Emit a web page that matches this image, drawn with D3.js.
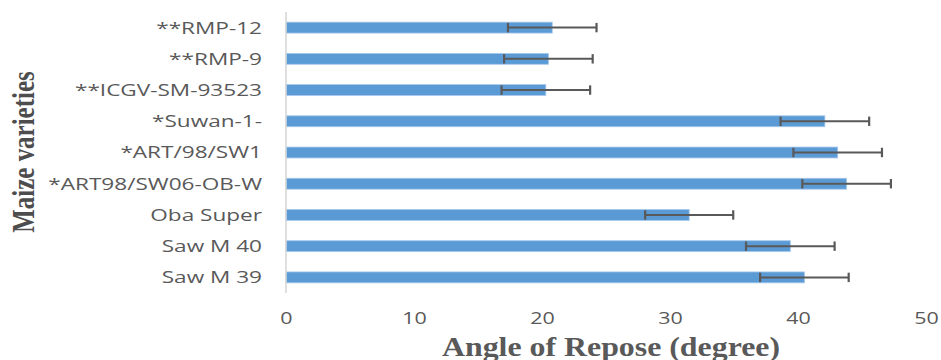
<!DOCTYPE html>
<html>
<head>
<meta charset="utf-8">
<script src="https://cdn.jsdelivr.net/npm/d3@7"></script>
<style>
  html, body { margin: 0; padding: 0; background: #fff; }
  svg { display: block; }
</style>
</head>
<body>
<div id="chart"></div>
<script>
// Angle of repose per maize variety, with symmetric error bars
const categories = ["**RMP-12", "**RMP-9", "**ICGV-SM-93523", "*Suwan-1-", "*ART/98/SW1",
                    "*ART98/SW06-OB-W", "Oba Super", "Saw M 40", "Saw M 39"];
const values = [20.8, 20.5, 20.3, 42.1, 43.1, 43.8, 31.5, 39.4, 40.5];
const errors = [3.46, 3.46, 3.46, 3.46, 3.46, 3.46, 3.44, 3.46, 3.46];
const xTicks = [0, 10, 20, 30, 40, 50];
const xTitle = "Angle of Repose (degree)";
const yTitle = "Maize varieties";

const W = 941, H = 360;
const plot = { left: 286, right: 926, top: 12, bottom: 293 };

const svg = d3.select("#chart").append("svg")
  .attr("width", W).attr("height", H);

const x = d3.scaleLinear().domain([0, 50]).range([plot.left, plot.right]);
const y = d3.scaleBand().domain(categories)
  .range([plot.top, plot.bottom])
  .paddingInner(0.65).paddingOuter(0.325);

const rows = categories.map((c, i) => ({ c, v: values[i], e: errors[i] }));

// bars
svg.append("g").selectAll("rect").data(rows).join("rect")
  .attr("x", x(0))
  .attr("y", d => y(d.c))
  .attr("width", d => x(d.v) - x(0))
  .attr("height", y.bandwidth())
  .attr("fill", "#5B9BD5")
  .attr("stroke", "#a8c9ec")
  .attr("stroke-width", 0.8);

// error bars
const eb = svg.append("g").attr("stroke", "#595959").attr("fill", "none");
rows.forEach(d => {
  const cy = y(d.c) + y.bandwidth() / 2;
  const x0 = x(d.v - d.e), x1 = x(d.v + d.e);
  eb.append("line").attr("x1", x0).attr("x2", x1).attr("y1", cy).attr("y2", cy)
    .attr("stroke-width", 2);
  [x0, x1].forEach(px => {
    eb.append("line").attr("x1", px).attr("x2", px)
      .attr("y1", cy - 4.7).attr("y2", cy + 4.7).attr("stroke-width", 2.2);
  });
});

// vertical category axis line
svg.append("line")
  .attr("x1", x(0)).attr("x2", x(0))
  .attr("y1", plot.top).attr("y2", plot.bottom)
  .attr("stroke", "#d4d4d4").attr("stroke-width", 1.5);

// category labels (wide-set sans)
svg.append("g").selectAll("text").data(categories).join("text")
  .attr("transform", d => `translate(${x(0) - 24},${y(d) + y.bandwidth() / 2}) scale(1.37,1)`)
  .attr("dy", "0.36em")
  .attr("text-anchor", "end")
  .attr("font-family", "'Open Sans', sans-serif")
  .attr("font-size", 16.5)
  .attr("fill", "#595959")
  .text(d => d);

// value axis tick labels
const xAxis = d3.axisBottom(x).tickValues(xTicks).tickSize(0).tickPadding(0);
const gx = svg.append("g").attr("transform", `translate(0,${plot.bottom + 19})`).call(xAxis);
gx.select(".domain").remove();
gx.selectAll("text")
  .attr("transform", "scale(1.3,1)")
  .attr("font-family", "'Open Sans', sans-serif")
  .attr("font-size", 16.5)
  .attr("fill", "#595959");

// axis titles
svg.append("text")
  .attr("transform", "translate(611,356) scale(1.18,1)")
  .attr("text-anchor", "middle")
  .attr("font-family", "'Liberation Serif', 'Times New Roman', serif")
  .attr("font-weight", "bold")
  .attr("font-size", 27)
  .attr("fill", "#595959")
  .text(xTitle);

svg.append("text")
  .attr("transform", "translate(34,152) rotate(-90) scale(0.78,1)")
  .attr("text-anchor", "middle")
  .attr("font-family", "'Liberation Serif', 'Times New Roman', serif")
  .attr("font-weight", "bold")
  .attr("font-size", 32)
  .attr("fill", "#4d4d4d")
  .text(yTitle);
</script>
</body>
</html>
